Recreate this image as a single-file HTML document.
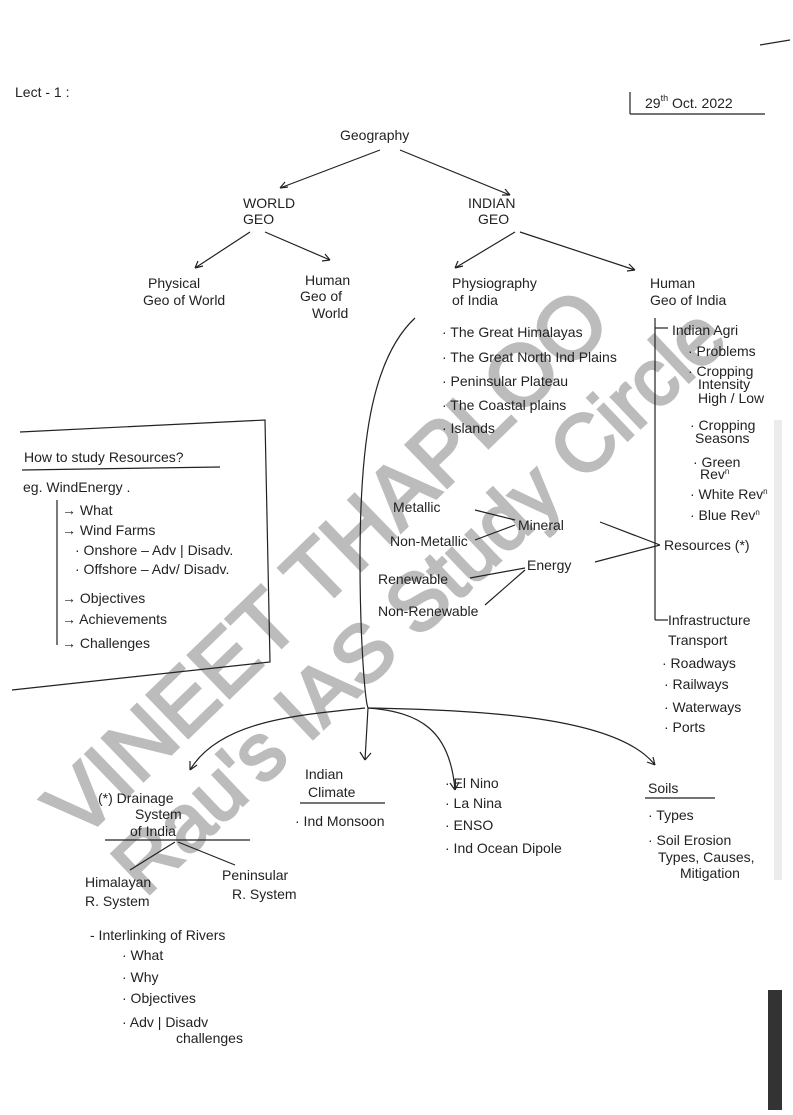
<!DOCTYPE html>
<html><head><meta charset="utf-8"><style>
html,body{margin:0;padding:0;background:#fff;}
svg{display:block}
text{font-family:"Liberation Sans",sans-serif;fill:#222;}
.s{font-size:14px}
</style></head><body>
<svg width="793" height="1115" viewBox="0 0 793 1115">
<rect width="793" height="1115" fill="#fff"/>
<!-- watermark -->
<g style="font-family:'Liberation Sans',sans-serif">
<text x="0" y="0" font-size="86" transform="translate(80,842) rotate(-44)" style="fill:#bcbcbc;stroke:#bcbcbc;stroke-width:3">VINEET THAPLOO</text>
<text x="0" y="0" font-size="80" transform="translate(145,898) rotate(-43.5)" style="fill:#bcbcbc;stroke:#bcbcbc;stroke-width:3">Rau's IAS Study Circle</text>
</g>
<g stroke="#222" stroke-width="1.2" fill="none">
<line x1="760" y1="45" x2="790" y2="40"/>
<line x1="630" y1="92" x2="630" y2="114"/><line x1="630" y1="114" x2="765" y2="114"/>
<path d="M380 150 L280 188 M280 188 l8 -1 M280 188 l5 -6"/><path d="M400 150 L510 195 M510 195 l-5 -6 M510 195 l-8 0"/>
<path d="M250 232 L195 268 M195 268 l8 -2 M195 268 l3 -7"/><path d="M265 232 L330 260 M330 260 l-5 -6 M330 260 l-8 1"/>
<path d="M515 232 L455 268 M455 268 l8 -2 M455 268 l3 -7"/><path d="M520 232 L635 270 M635 270 l-6 -6 M635 270 l-8 1"/>
<path d="M655 318 L655 620"/><line x1="655" y1="328" x2="668" y2="328"/><line x1="655" y1="620" x2="668" y2="620"/>
<path d="M415 318 C370 360 360 450 360 560 C360 640 365 700 368 708 L365 760 M365 760 l-5 -8 M365 760 l6 -7"/>
<path d="M20 432 L265 420 L270 662 L12 690"/>
<line x1="22" y1="470" x2="220" y2="467"/>
<path d="M57 500 L57 645"/>
<path d="M515 520 L475 510 M515 525 L475 540"/>
<path d="M660 545 L600 522 M660 545 L595 562"/>
<path d="M525 568 L470 578 M525 570 L485 605"/>
<path d="M365 708 C300 715 220 720 190 770 M190 770 l0 -9 M190 770 l7 -5"/>
<path d="M368 708 C420 712 450 730 455 790 M455 790 l-5 -7 M455 790 l4 -8"/>
<path d="M368 708 C500 710 620 720 655 765 M655 765 l-2 -8 M655 765 l-8 -3"/>
<line x1="300" y1="803" x2="385" y2="803"/>
<line x1="105" y1="840" x2="250" y2="840"/>
<line x1="645" y1="798" x2="715" y2="798"/>
<path d="M175 842 L130 870 M178 842 L235 865"/>
</g>
<text x="15" y="97" class="s" font-size="12">Lect - 1 :</text>
<text x="645" y="108" class="s">29<tspan font-size="9" dy="-7">th</tspan><tspan dy="7"> Oct. 2022</tspan></text>
<text x="340" y="140" class="s" font-size="16">Geography</text>
<text x="243" y="208" class="s">WORLD</text><text x="243" y="224" class="s">GEO</text>
<text x="468" y="208" class="s">INDIAN</text><text x="478" y="224" class="s">GEO</text>
<text x="148" y="288" class="s">Physical</text><text x="143" y="305" class="s">Geo of World</text>
<text x="305" y="285" class="s">Human</text><text x="300" y="301" class="s">Geo of</text><text x="312" y="318" class="s">World</text>
<text x="452" y="288" class="s">Physiography</text><text x="452" y="305" class="s">of India</text>
<text x="650" y="288" class="s">Human</text><text x="650" y="305" class="s">Geo of India</text>
<text x="442" y="337" class="s">· The Great Himalayas</text>
<text x="442" y="362" class="s">· The Great North Ind Plains</text>
<text x="442" y="386" class="s">· Peninsular Plateau</text>
<text x="442" y="410" class="s">· The Coastal plains</text>
<text x="442" y="433" class="s">· Islands</text>
<text x="672" y="335" class="s">Indian Agri</text>
<text x="688" y="356" class="s">· Problems</text>
<text x="688" y="376" class="s" font-size="13">· Cropping</text>
<text x="698" y="389" class="s" font-size="12">Intensity</text>
<text x="698" y="403" class="s" font-size="12">High / Low</text>
<text x="690" y="430" class="s" font-size="13">· Cropping</text><text x="695" y="443" class="s" font-size="12">Seasons</text>
<text x="693" y="467" class="s" font-size="12">· Green</text><text x="700" y="479" class="s" font-size="11">Rev<tspan font-size="8" dy="-5">n</tspan></text>
<text x="690" y="499" class="s" font-size="12">· White Rev<tspan font-size="8" dy="-5">n</tspan></text>
<text x="690" y="520" class="s" font-size="12">· Blue Rev<tspan font-size="8" dy="-5">n</tspan></text>
<text x="664" y="550" class="s" font-size="13">Resources (*)</text>
<text x="668" y="625" class="s" font-size="13">Infrastructure</text>
<text x="668" y="645" class="s" font-size="13">Transport</text>
<text x="662" y="668" class="s">· Roadways</text>
<text x="664" y="689" class="s">· Railways</text>
<text x="664" y="712" class="s">· Waterways</text>
<text x="664" y="732" class="s">· Ports</text>
<text x="393" y="512" class="s" font-size="11">Metallic</text>
<text x="390" y="546" class="s" font-size="11">Non-Metallic</text>
<text x="518" y="530" class="s">Mineral</text>
<text x="527" y="570" class="s">Energy</text>
<text x="378" y="584" class="s" font-size="13">Renewable</text>
<text x="378" y="616" class="s" font-size="13">Non-Renewable</text>
<text x="24" y="462" class="s" font-size="13">How to study  Resources?</text>
<text x="23" y="492" class="s">eg. WindEnergy .</text>
<text x="62" y="515" class="s" font-size="13">→ What</text>
<text x="62" y="535" class="s" font-size="13">→ Wind Farms</text>
<text x="75" y="555" class="s" font-size="13">· Onshore – Adv | Disadv.</text>
<text x="75" y="574" class="s" font-size="13">· Offshore – Adv/ Disadv.</text>
<text x="62" y="603" class="s" font-size="13">→ Objectives</text>
<text x="62" y="624" class="s" font-size="13">→ Achievements</text>
<text x="62" y="648" class="s" font-size="13">→ Challenges</text>
<text x="98" y="803" class="s" font-size="16">(*) Drainage</text>
<text x="135" y="819" class="s" font-size="15">System</text>
<text x="130" y="836" class="s" font-size="15">of India</text>
<text x="305" y="779" class="s" font-size="15">Indian</text>
<text x="308" y="797" class="s" font-size="15">Climate</text>
<text x="295" y="826" class="s" font-size="13">· Ind Monsoon</text>
<text x="445" y="788" class="s">· El Nino</text>
<text x="445" y="808" class="s">· La Nina</text>
<text x="445" y="830" class="s">· ENSO</text>
<text x="445" y="853" class="s">· Ind Ocean Dipole</text>
<text x="648" y="793" class="s" font-size="16">Soils</text>
<text x="648" y="820" class="s">· Types</text>
<text x="648" y="845" class="s" font-size="13">· Soil Erosion</text>
<text x="658" y="862" class="s" font-size="12">Types, Causes,</text>
<text x="680" y="878" class="s" font-size="12">Mitigation</text>
<text x="85" y="887" class="s" font-size="13">Himalayan</text>
<text x="85" y="906" class="s" font-size="13">R. System</text>
<text x="222" y="880" class="s" font-size="12">Peninsular</text>
<text x="232" y="899" class="s" font-size="13">R. System</text>
<text x="90" y="940" class="s">- Interlinking of Rivers</text>
<text x="122" y="960" class="s">· What</text>
<text x="122" y="982" class="s">· Why</text>
<text x="122" y="1003" class="s" font-size="12">· Objectives</text>
<text x="122" y="1027" class="s">· Adv | Disadv</text>
<text x="176" y="1043" class="s" font-size="12">challenges</text>
<rect x="774" y="420" width="8" height="460" fill="#ececec"/>
<rect x="768" y="990" width="14" height="120" fill="#333"/>
</svg>
</body></html>
